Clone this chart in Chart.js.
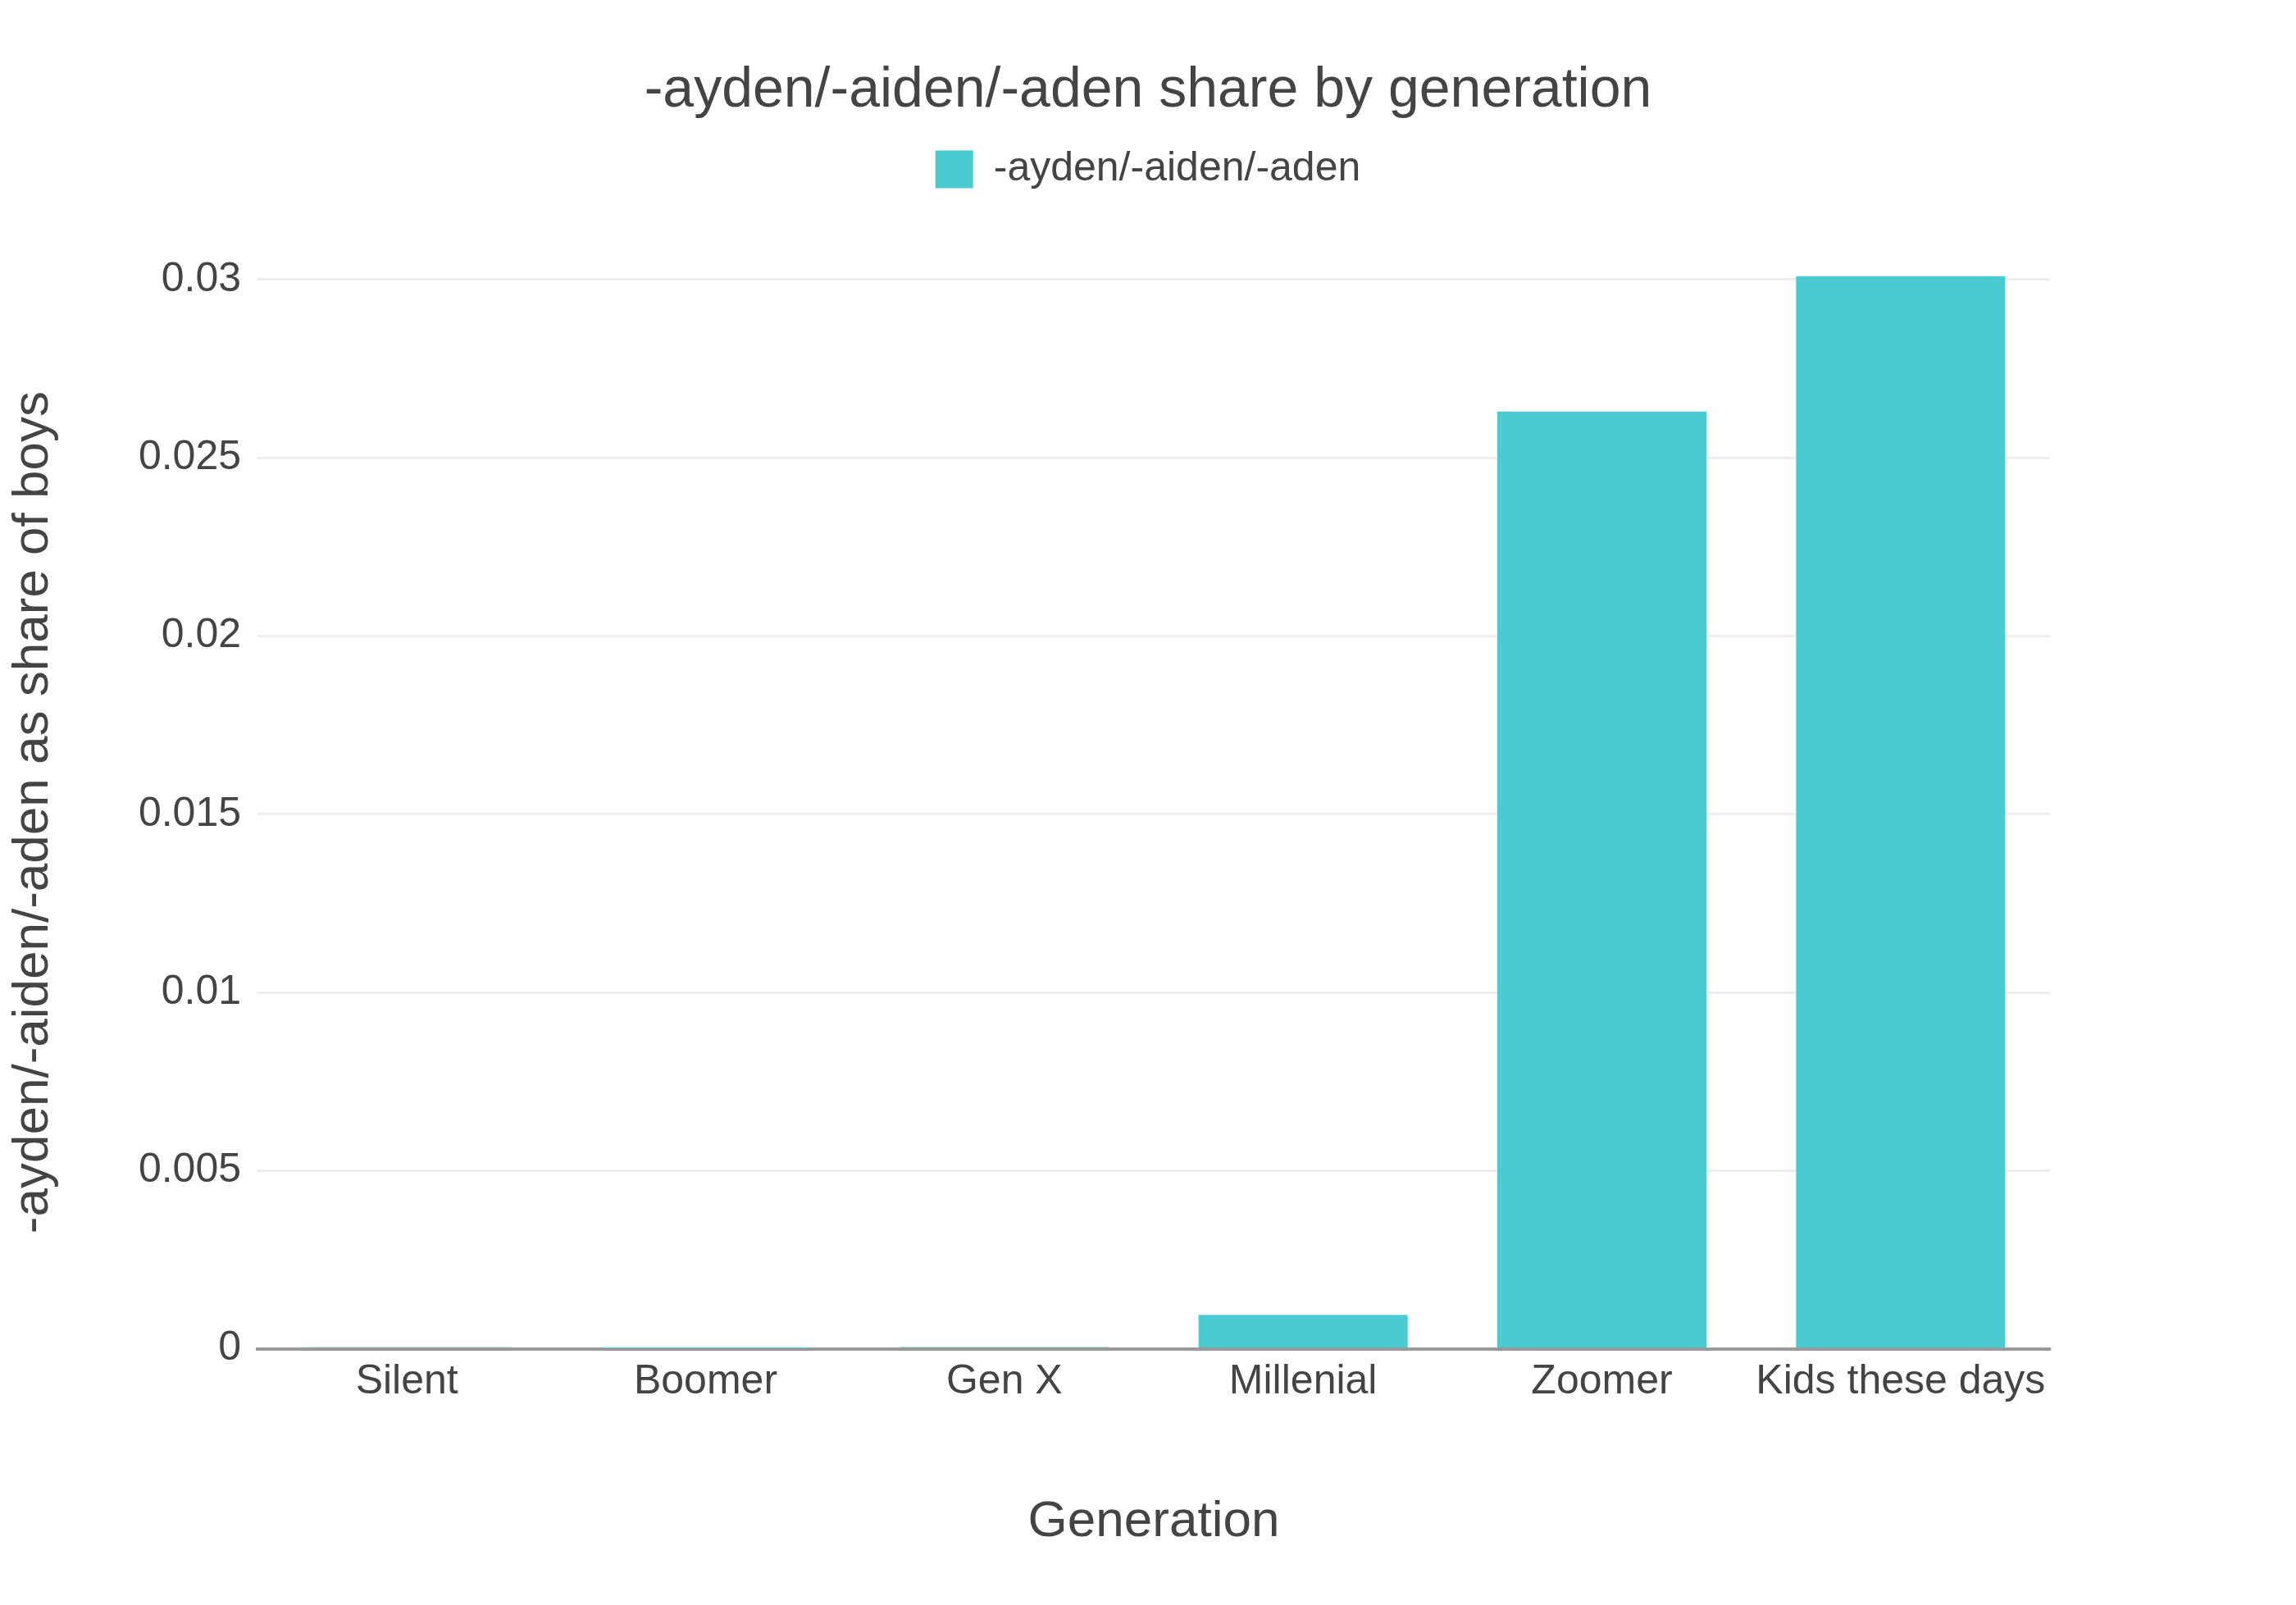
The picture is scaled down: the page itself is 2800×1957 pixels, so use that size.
<!DOCTYPE html>
<html><head><meta charset="utf-8">
<script src="https://cdn.jsdelivr.net/npm/chart.js@4/dist/chart.umd.min.js"></script>
<style>html,body{margin:0;background:#fff}#w{width:2800px;height:1957px}</style>
</head><body><div id="w"><canvas id="c"></canvas></div>
<script>
const categories=["Silent","Boomer","Gen X","Millenial","Zoomer","Kids these days"];
const values=[0.00004,0.00002,0.00005,0.00095,0.0263,0.0301];
const seriesName="-ayden/-aiden/-aden";
const tickValues=[0,0.005,0.01,0.015,0.02,0.025,0.03];
const F="'Liberation Sans', Arial, sans-serif";
const legendSpace={id:'legendSpace',beforeInit(chart){const lg=chart.legend;if(!lg)return;const fit=lg.fit;lg.fit=function(){fit.call(this);this.height+=95;};}};
new Chart(document.getElementById('c'),{
type:'bar',
data:{labels:categories,datasets:[{label:seriesName,data:values,backgroundColor:'#4acbd2',barPercentage:0.7,categoryPercentage:1}]},
plugins:[legendSpace],
options:{responsive:true,maintainAspectRatio:false,animation:false,
layout:{padding:{left:0,right:0,top:10,bottom:60}},
plugins:{
title:{display:true,text:'-ayden/-aiden/-aden share by generation',color:'#444',font:{family:F,size:68,weight:'normal'},padding:{top:60,bottom:0}},
legend:{labels:{color:'#444',font:{family:F,size:50},boxWidth:46,boxHeight:46,padding:30}}},
scales:{
x:{grid:{display:false},border:{color:'#999',width:4},ticks:{color:'#444',font:{family:F,size:50}},
title:{display:true,text:'Generation',color:'#444',font:{family:F,size:62},padding:{top:100}}},
y:{min:0,max:0.0301,afterBuildTicks(s){s.ticks=tickValues.map(v=>({value:v}));},
afterFit(s){s.width=314;},
ticks:{color:'#444',font:{family:F,size:50},padding:20,callback:v=>String(+v.toFixed(3))},
grid:{color:'#eee',lineWidth:3,drawTicks:false},border:{display:false},
title:{display:true,text:'-ayden/-aiden/-aden as share of boys',color:'#444',font:{family:F,size:62},padding:{bottom:20}}},
yr:{position:'right',display:true,afterFit(s){s.width=300;},ticks:{display:false},grid:{display:false},border:{display:false}}}}
});
</script></body></html>
